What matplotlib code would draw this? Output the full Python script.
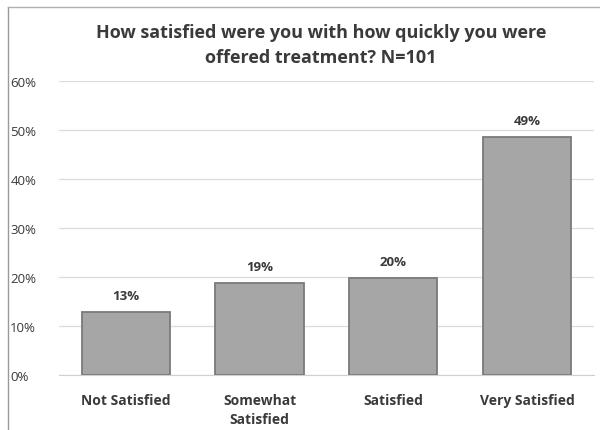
import matplotlib
matplotlib.use("Agg")
import matplotlib.pyplot as plt
from matplotlib.lines import Line2D
from matplotlib.ticker import FuncFormatter, MultipleLocator

categories = ["Not Satisfied", "Somewhat\nSatisfied", "Satisfied", "Very Satisfied"]
counts = [13, 19, 20, 49]
n_total = 101
percents = [100 * c / n_total for c in counts]
title = "How satisfied were you with how quickly you were\noffered treatment? N=101"

plt.rcParams["font.family"] = ["Open Sans", "DejaVu Sans"]
text_color = "#3a3a3a"

fig = plt.figure(figsize=(6.0, 4.31), dpi=100)
ax = fig.add_axes([0.098, 0.128, 0.892, 0.682])

x = range(len(categories))
ax.bar(x, percents, width=0.66, color="#a6a6a6", edgecolor="#7a7a7a", linewidth=1.3, zorder=3)

for xi, p in zip(x, percents):
    ax.text(xi, p + 2.0, f"{p:.0f}%", ha="center", va="bottom",
            fontsize=9.5, fontweight="bold", color=text_color)

ax.set_ylim(0, 60)
ax.set_xlim(-0.5, len(categories) - 0.5)
ax.yaxis.set_major_locator(MultipleLocator(10))
ax.yaxis.set_major_formatter(FuncFormatter(lambda v, _: f"{v:.0f}%"))
ax.grid(axis="y", color="#dcdcdc", linewidth=0.9, zorder=0)
ax.set_xticks(list(x))
ax.set_xticklabels(categories, fontsize=10, fontweight="bold", color=text_color, linespacing=1.5)
ax.tick_params(axis="both", length=0, colors=text_color)
ax.tick_params(axis="y", labelsize=9.5)
ax.tick_params(axis="x", pad=13)
for lbl in ax.get_yticklabels():
    lbl.set_horizontalalignment("left")
ax.yaxis.set_tick_params(pad=35)
for spine in ["top", "right", "left"]:
    ax.spines[spine].set_visible(False)
ax.spines["bottom"].set_color("#d0d0d0")

fig.text(0.535, 0.895, title, ha="center", va="center", fontsize=13,
         fontweight="bold", color=text_color, linespacing=1.5)

# Chart frame along the left and top edges
fig.add_artist(Line2D([0.013, 0.013], [0.0, 0.982], transform=fig.transFigure,
                      color="#9a9a9a", linewidth=1.0))
fig.add_artist(Line2D([0.013, 1.0], [0.982, 0.982], transform=fig.transFigure,
                      color="#b0b0b0", linewidth=1.0))

fig.savefig("out.png", dpi=100, facecolor="white")
